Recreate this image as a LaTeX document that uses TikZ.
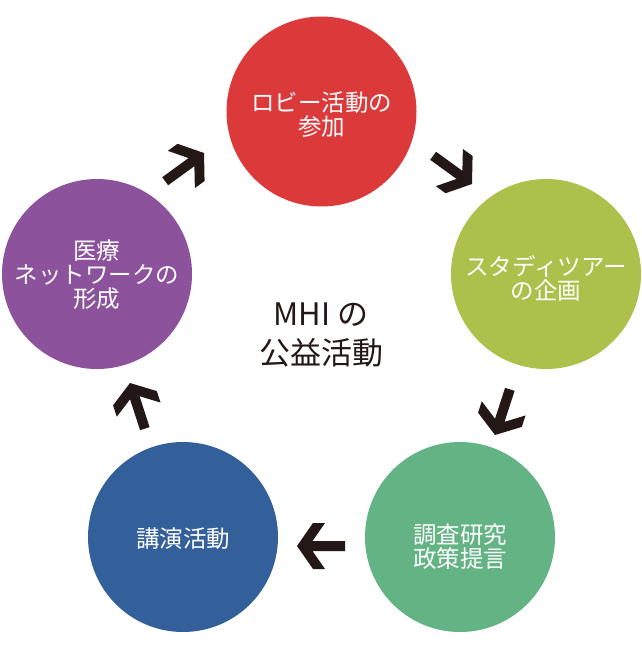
\documentclass[tikz,border=0pt]{standalone}
\usepackage{fontspec}
\newfontfamily\cjk{Noto Sans CJK JP}
\definecolor{cred}{HTML}{DC393B}
\definecolor{cyg}{HTML}{ABC14C}
\definecolor{cgreen}{HTML}{63B385}
\definecolor{cblue}{HTML}{33609A}
\definecolor{cpurple}{HTML}{8C529C}
\definecolor{ink}{HTML}{231815}
\begin{document}
\begin{tikzpicture}[x=1pt,y=-1pt,
  bubble/.style={circle, minimum size=190pt, inner sep=0pt, draw=none},
  bubbletext/.style={text=white, font=\cjk\fontsize{23.5}{24}\selectfont, align=center, inner sep=0pt},
  centertext/.style={text=ink, font=\cjk\fontsize{31}{39}\selectfont, align=center, inner sep=0pt},
  chev/.pic={\fill[ink] (0,0) -- (-16,23) -- (-28,23) -- (-15.5,5) -- (-48,5) -- (-48,-5) -- (-15.5,-5) -- (-28,-23) -- (-16,-23) -- cycle;}
]
\useasboundingbox (0,0) rectangle (642,649);
% circles
\node[bubble, fill=cred]    (lobby)  at (321.5,111.5) {};
\node[bubble, fill=cyg]     (tour)   at (546,274) {};
\node[bubble, fill=cgreen]  (study)  at (460,537) {};
\node[bubble, fill=cblue]   (lecture) at (183,537) {};
\node[bubble, fill=cpurple] (network) at (97,274) {};
% labels
\node[bubbletext] (lobbyt)  at (321.5,115) {ロビー活動の\\参加};
\node[bubbletext] (tourt)   at (546,278) {スタディツアー\\の企画};
\node[bubbletext] (studyt)  at (460,546.5) {調査研究\\政策提言};
\node[bubbletext] (lecturet) at (183,539) {講演活動};
\node[bubbletext] (networkt) at (97,275) {医療\\ネットワークの\\形成};
\node[centertext] (center) at (321,335) {MHI の\\公益活動};
% arrows
\coordinate (a1) at (204,153);
\coordinate (a2) at (472,184);
\coordinate (a3) at (495,435);
\coordinate (a4) at (297,546);
\coordinate (a5) at (130,383);
\pic[rotate=36]   at (a1) {chev};
\pic[rotate=-36]  at (a2) {chev};
\pic[rotate=-108] at (a3) {chev};
\pic[rotate=180]  at (a4) {chev};
\pic[rotate=108]  at (a5) {chev};
\end{tikzpicture}
\end{document}
